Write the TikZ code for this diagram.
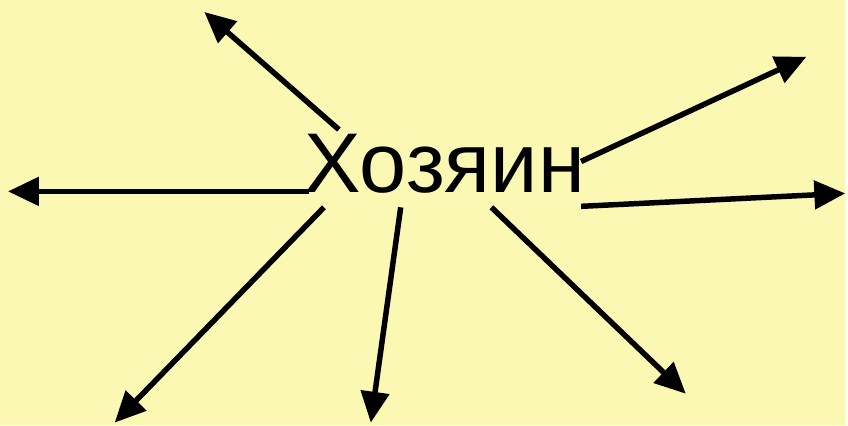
\documentclass[tikz,border=0pt]{standalone}
\usepackage{fontspec}
\setmainfont{Liberation Sans}
\usetikzlibrary{arrows.meta}
\definecolor{paleyellow}{RGB}{251,248,180}
\begin{document}
\begin{tikzpicture}[x=1pt,y=-1pt,
  spoke/.style={line width=5.5pt,-{Triangle[length=31pt,width=28pt]}}]
  \fill[paleyellow] (0,0) rectangle (848,426);
  \node[anchor=base,inner sep=0pt,font=\fontsize{85}{90}\selectfont] (owner) at (446,193) {Хозяин};
  % start points round the word
  \coordinate (s1) at (340,130);
  \coordinate (s2) at (310,192);
  \coordinate (s3) at (325,208);
  \coordinate (s4) at (402,208);
  \coordinate (s5) at (493,208);
  \coordinate (s6) at (583,207);
  \coordinate (s7) at (583,162);
  % arrow tips
  \coordinate (e1) at (205,12);
  \coordinate (e2) at (8,192);
  \coordinate (e3) at (115,424);
  \coordinate (e4) at (372,424);
  \coordinate (e5) at (688,395);
  \coordinate (e6) at (848,194);
  \coordinate (e7) at (809,57);
  \foreach \i in {1,...,7}
    \draw[spoke] (s\i)--(e\i);
\end{tikzpicture}
\end{document}
